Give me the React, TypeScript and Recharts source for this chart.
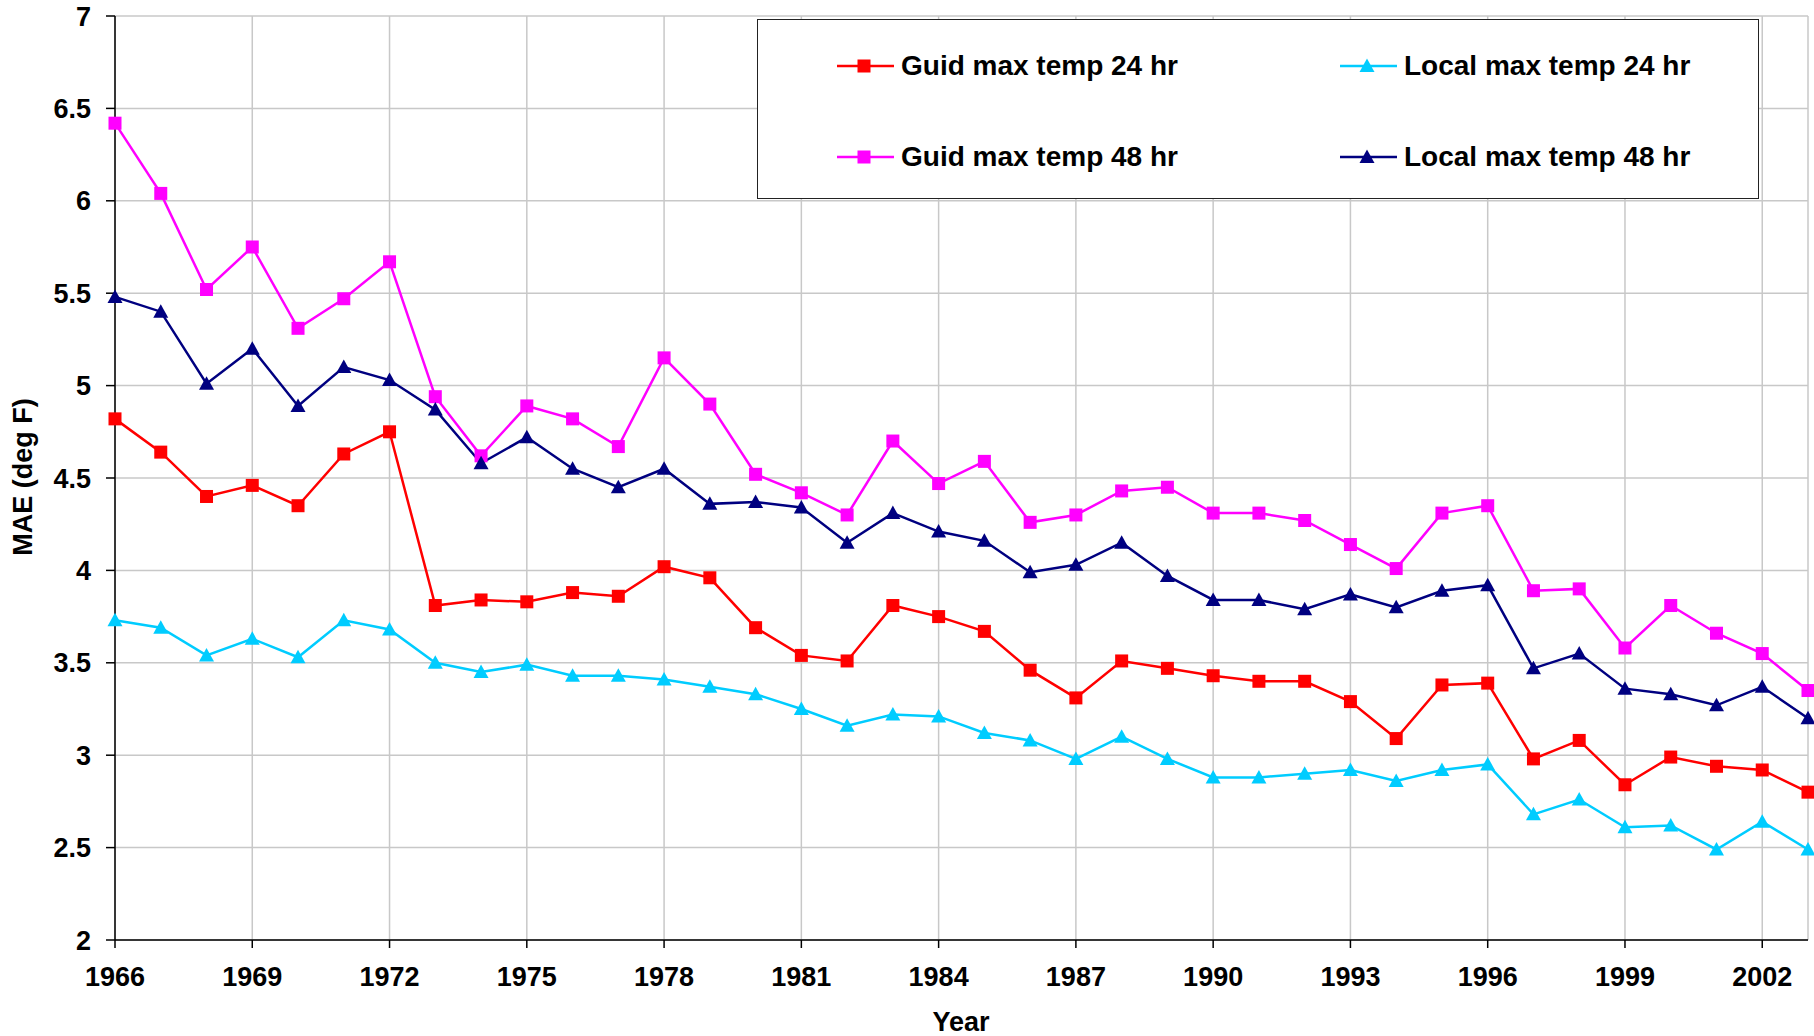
import { CartesianGrid, Line, LineChart, XAxis, YAxis } from "recharts"

const years = [
  1966, 1967, 1968, 1969, 1970, 1971, 1972, 1973, 1974, 1975, 1976, 1977, 1978,
  1979, 1980, 1981, 1982, 1983, 1984, 1985, 1986, 1987, 1988, 1989, 1990, 1991,
  1992, 1993, 1994, 1995, 1996, 1997, 1998, 1999, 2000, 2001, 2002, 2003,
]

const guid24 = [
  4.82, 4.64, 4.4, 4.46, 4.35, 4.63, 4.75, 3.81, 3.84, 3.83, 3.88, 3.86, 4.02,
  3.96, 3.69, 3.54, 3.51, 3.81, 3.75, 3.67, 3.46, 3.31, 3.51, 3.47, 3.43, 3.4,
  3.4, 3.29, 3.09, 3.38, 3.39, 2.98, 3.08, 2.84, 2.99, 2.94, 2.92, 2.8,
]

const guid48 = [
  6.42, 6.04, 5.52, 5.75, 5.31, 5.47, 5.67, 4.94, 4.62, 4.89, 4.82, 4.67, 5.15,
  4.9, 4.52, 4.42, 4.3, 4.7, 4.47, 4.59, 4.26, 4.3, 4.43, 4.45, 4.31, 4.31,
  4.27, 4.14, 4.01, 4.31, 4.35, 3.89, 3.9, 3.58, 3.81, 3.66, 3.55, 3.35,
]

const local24 = [
  3.73, 3.69, 3.54, 3.63, 3.53, 3.73, 3.68, 3.5, 3.45, 3.49, 3.43, 3.43, 3.41,
  3.37, 3.33, 3.25, 3.16, 3.22, 3.21, 3.12, 3.08, 2.98, 3.1, 2.98, 2.88, 2.88,
  2.9, 2.92, 2.86, 2.92, 2.95, 2.68, 2.76, 2.61, 2.62, 2.49, 2.64, 2.49,
]

const local48 = [
  5.48, 5.4, 5.01, 5.2, 4.89, 5.1, 5.03, 4.87, 4.58, 4.72, 4.55, 4.45, 4.55,
  4.36, 4.37, 4.34, 4.15, 4.31, 4.21, 4.16, 3.99, 4.03, 4.15, 3.97, 3.84, 3.84,
  3.79, 3.87, 3.8, 3.89, 3.92, 3.47, 3.55, 3.36, 3.33, 3.27, 3.37, 3.2,
]

const xTicks = [1966, 1969, 1972, 1975, 1978, 1981, 1984, 1987, 1990, 1993, 1996, 1999, 2002]
const yTicks = [2, 2.5, 3, 3.5, 4, 4.5, 5, 5.5, 6, 6.5, 7]

const series = [
  { key: "guid24", name: "Guid max temp 24 hr", color: "#ff0000", marker: "square" },
  { key: "guid48", name: "Guid max temp 48 hr", color: "#ff00ff", marker: "square" },
  { key: "local24", name: "Local max temp 24 hr", color: "#00ccff", marker: "triangle" },
  { key: "local48", name: "Local max temp 48 hr", color: "#000080", marker: "triangle" },
]

const data = years.map((year, i) => ({
  year,
  guid24: guid24[i],
  guid48: guid48[i],
  local24: local24[i],
  local48: local48[i],
}))

const FONT = "'Liberation Sans', Arial, sans-serif"

function Marker({ cx, cy, color, marker }: { cx: number; cy: number; color: string; marker: string }) {
  if (marker === "square") {
    return <rect x={cx - 6.5} y={cy - 6.5} width={13} height={13} fill={color} />
  }
  return (
    <polygon
      points={`${cx},${cy - 7.5} ${cx - 7.5},${cy + 6} ${cx + 7.5},${cy + 6}`}
      fill={color}
    />
  )
}

function makeDot(color: string, marker: string) {
  return (props: any) => {
    const { cx, cy, index } = props
    if (cx == null || cy == null) return <g key={`e-${index}`} />
    return (
      <g key={`d-${index}`}>
        <Marker cx={cx} cy={cy} color={color} marker={marker} />
      </g>
    )
  }
}

function LegendBox() {
  const cols = [
    [series[0], series[1]],
    [series[2], series[3]],
  ]
  const colLeft = [79, 582]
  const rowTop = [26, 117]
  return (
    <div
      style={{
        position: "absolute",
        left: 757,
        top: 19,
        width: 1002,
        height: 180,
        border: "1.5px solid #222",
        background: "#fff",
        boxSizing: "border-box",
      }}
    >
      {cols.map((col, ci) =>
        col.map((s, ri) => (
          <div
            key={s.key}
            style={{
              position: "absolute",
              left: colLeft[ci],
              top: rowTop[ri],
              display: "flex",
              alignItems: "center",
              height: 40,
            }}
          >
            <svg width={57} height={20} style={{ display: "block" }}>
              <line x1={0} y1={10} x2={57} y2={10} stroke={s.color} strokeWidth={2.5} />
              <Marker cx={27} cy={10} color={s.color} marker={s.marker} />
            </svg>
            <span
              style={{
                marginLeft: 7,
                fontFamily: FONT,
                fontWeight: 700,
                fontSize: 28,
                color: "#000",
                whiteSpace: "nowrap",
              }}
            >
              {s.name}
            </span>
          </div>
        ))
      )}
    </div>
  )
}

export default function App() {
  return (
    <div style={{ position: "relative", width: 1814, height: 1036, background: "#fff" }}>
      <style>{`body{margin:0}`}</style>
      <LineChart
        width={1814}
        height={1036}
        data={data}
        margin={{ top: 16, right: 6, bottom: 0, left: 0 }}
      >
        <CartesianGrid stroke="#c8c8c8" strokeWidth={1.5} />
        <XAxis
          dataKey="year"
          type="number"
          domain={[1966, 2003]}
          ticks={xTicks}
          interval={0}
          height={96}
          tickSize={8}
          tickMargin={19}
          stroke="#000"
          strokeWidth={1.5}
          tick={{ fill: "#000", fontFamily: FONT, fontWeight: 700, fontSize: 27 }}
          label={{
            content: () => (
              <text
                x={961}
                y={1031}
                textAnchor="middle"
                fontFamily={FONT}
                fontWeight={700}
                fontSize={27}
                fill="#000"
              >
                Year
              </text>
            ),
          }}
        />
        <YAxis
          type="number"
          domain={[2, 7]}
          ticks={yTicks}
          interval={0}
          width={115}
          tickSize={9}
          tickMargin={15}
          stroke="#000"
          strokeWidth={1.5}
          tick={{ fill: "#000", fontFamily: FONT, fontWeight: 700, fontSize: 27 }}
          label={{
            content: () => (
              <text
                x={32}
                y={477}
                transform="rotate(-90 32 477)"
                textAnchor="middle"
                fontFamily={FONT}
                fontWeight={700}
                fontSize={27}
                fill="#000"
              >
                MAE (deg F)
              </text>
            ),
          }}
        />
        {series.map((s) => (
          <Line
            key={s.key}
            dataKey={s.key}
            name={s.name}
            type="linear"
            stroke={s.color}
            strokeWidth={2.5}
            dot={makeDot(s.color, s.marker)}
            activeDot={false}
            isAnimationActive={false}
          />
        ))}
      </LineChart>
      <LegendBox />
    </div>
  )
}
